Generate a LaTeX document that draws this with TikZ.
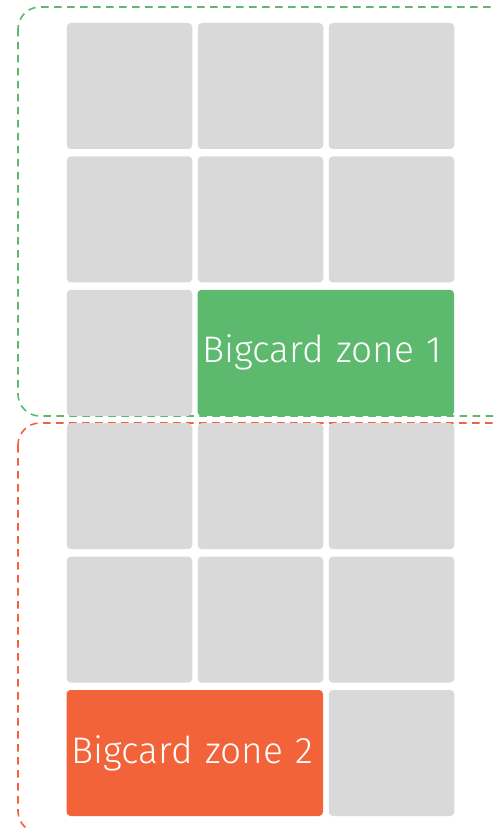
\documentclass[tikz,border=0pt]{standalone}
\usepackage{fontspec}
\setmainfont{Fira Sans}[UprightFont=* Light]
\usepackage{xcolor}
\usepackage{tikz}
\usetikzlibrary{positioning}

\definecolor{cellgrey}{HTML}{D9D9D9}
\definecolor{zonegreen}{HTML}{5DB96E}
\definecolor{zoneorange}{HTML}{F26339}

\begin{document}
\begin{tikzpicture}[
  x=1pt, y=-1pt,
  cell/.style={rectangle, rounded corners=4pt, fill=cellgrey, inner sep=0pt,
    minimum width=125.5pt, minimum height=126pt},
  bigcard/.style={cell, minimum width=256.5pt, text=white, inner xsep=5pt,
    text width=246.5pt, font=\fontsize{37}{40}\selectfont, align=left},
  frame/.style={dashed, dash pattern=on 7.5pt off 5.5pt, line width=1.6pt,
    rounded corners=22pt}
]
\useasboundingbox (0,0) rectangle (494,829);
\clip (0,0) rectangle (494,829);

% zone frames
\draw[frame, zonegreen] (18,7) rectangle (540,416);
\draw[frame, zoneorange] (18,423) rectangle (540,833);

% grid cells, row by row
\node[cell] (r1c1) at (129.5,86) {};
\node[cell] (r1c2) at (260.5,86) {};
\node[cell] (r1c3) at (391.5,86) {};
\node[cell] (r2c1) at (129.5,219.4) {};
\node[cell] (r2c2) at (260.5,219.4) {};
\node[cell] (r2c3) at (391.5,219.4) {};
\node[cell] (r3c1) at (129.5,352.8) {};
\node[bigcard, fill=zonegreen] (zone1) at (325.75,352.8) {Bigcard zone 1};
\node[cell] (r4c1) at (129.5,486.2) {};
\node[cell] (r4c2) at (260.5,486.2) {};
\node[cell] (r4c3) at (391.5,486.2) {};
\node[cell] (r5c1) at (129.5,619.6) {};
\node[cell] (r5c2) at (260.5,619.6) {};
\node[cell] (r5c3) at (391.5,619.6) {};
\node[bigcard, fill=zoneorange] (zone2) at (194.75,753) {Bigcard zone 2};
\node[cell] (r6c3) at (391.5,753) {};
\end{tikzpicture}
\end{document}
